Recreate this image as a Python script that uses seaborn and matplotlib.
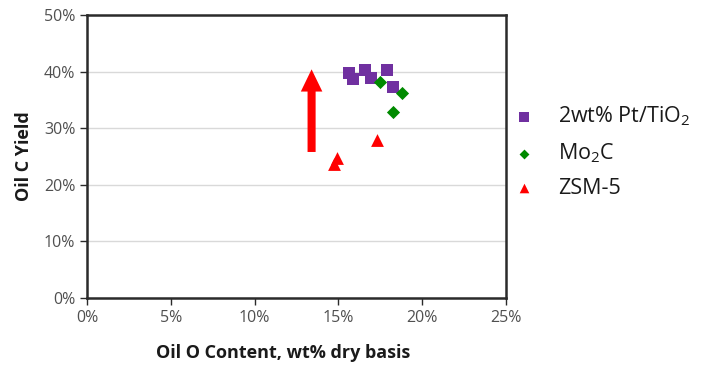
import matplotlib
matplotlib.use("Agg")
import matplotlib.pyplot as plt
import seaborn as sns
import pandas as pd
from matplotlib.ticker import PercentFormatter, MultipleLocator

# Data (fractions)
pt_x = [0.1565, 0.1589, 0.1659, 0.1693, 0.1792, 0.1828]
pt_y = [0.397, 0.387, 0.403, 0.389, 0.403, 0.372]
mo_x = [0.1748, 0.1878, 0.1828]
mo_y = [0.381, 0.363, 0.328]
zsm_x = [0.1728, 0.1493, 0.1474]
zsm_y = [0.279, 0.247, 0.236]
series_names = ["2wt% Pt/TiO$_2$", "Mo$_2$C", "ZSM-5"]
arrow_x = 0.134
arrow_from = 0.258
arrow_to = 0.404

df = pd.DataFrame({
    "x": pt_x + mo_x + zsm_x,
    "y": pt_y + mo_y + zsm_y,
    "series": [series_names[0]] * len(pt_x) + [series_names[1]] * len(mo_x) + [series_names[2]] * len(zsm_x),
})

sns.set_theme(style="white")
plt.rcParams["font.family"] = ["Open Sans", "DejaVu Sans"]
plt.rcParams["mathtext.fontset"] = "custom"
plt.rcParams["mathtext.rm"] = "Open Sans"
plt.rcParams["mathtext.it"] = "Open Sans:italic"
plt.rcParams["mathtext.bf"] = "Open Sans:bold"

fig = plt.figure(figsize=(7.14, 3.66), dpi=100)
ax = fig.add_axes([87 / 714, 1 - 298 / 366, (506 - 87) / 714, (298 - 15) / 366])

palette = {series_names[0]: "#7030A0", series_names[1]: "#008A00", series_names[2]: "#FF0000"}
markers = {series_names[0]: "s", series_names[1]: "D", series_names[2]: "^"}
sizes_map = {series_names[0]: 75, series_names[1]: 45, series_names[2]: 85}

for name in series_names:
    sub = df[df["series"] == name]
    sns.scatterplot(data=sub, x="x", y="y", color=palette[name], marker=markers[name],
                    s=sizes_map[name], linewidth=0, ax=ax, label=name, zorder=3)

ax.annotate("", xy=(arrow_x, arrow_to), xytext=(arrow_x, arrow_from),
            arrowprops=dict(arrowstyle="simple,head_length=1.6,head_width=1.55,tail_width=0.58",
                            mutation_scale=10, color="#FF0000", lw=0, shrinkA=0, shrinkB=0),
            zorder=4)

ax.set_xlim(0, 0.25)
ax.set_ylim(0, 0.5)
ax.xaxis.set_major_locator(MultipleLocator(0.05))
ax.yaxis.set_major_locator(MultipleLocator(0.10))
ax.xaxis.set_major_formatter(PercentFormatter(1.0, decimals=0))
ax.yaxis.set_major_formatter(PercentFormatter(1.0, decimals=0))
ax.yaxis.grid(True, color="#D9D9D9", lw=1)
ax.xaxis.grid(False)
ax.set_axisbelow(True)
for sp in ax.spines.values():
    sp.set_color("#2B2B2B")
    sp.set_linewidth(1.8)
    sp.set_visible(True)
ax.tick_params(axis="both", which="major", direction="out", length=5, width=1,
               color="#2B2B2B", labelsize=11.5, labelcolor="#505050", bottom=True, left=True)
ax.set_xlabel("Oil O Content, wt% dry basis", fontsize=13, fontweight="bold", color="#1A1A1A")
ax.xaxis.set_label_coords(0.468, -0.162)
ax.set_ylabel("Oil C Yield", fontsize=13, fontweight="bold", color="#1A1A1A", labelpad=8)

leg = ax.legend(loc="center left", bbox_to_anchor=(0.676, 0.585), bbox_transform=fig.transFigure,
                frameon=False, fontsize=15.5, labelspacing=0.6, handletextpad=0.6, markerscale=0.75)
for t in leg.get_texts():
    t.set_color("#1A1A1A")

fig.savefig("out.png", dpi=100)
